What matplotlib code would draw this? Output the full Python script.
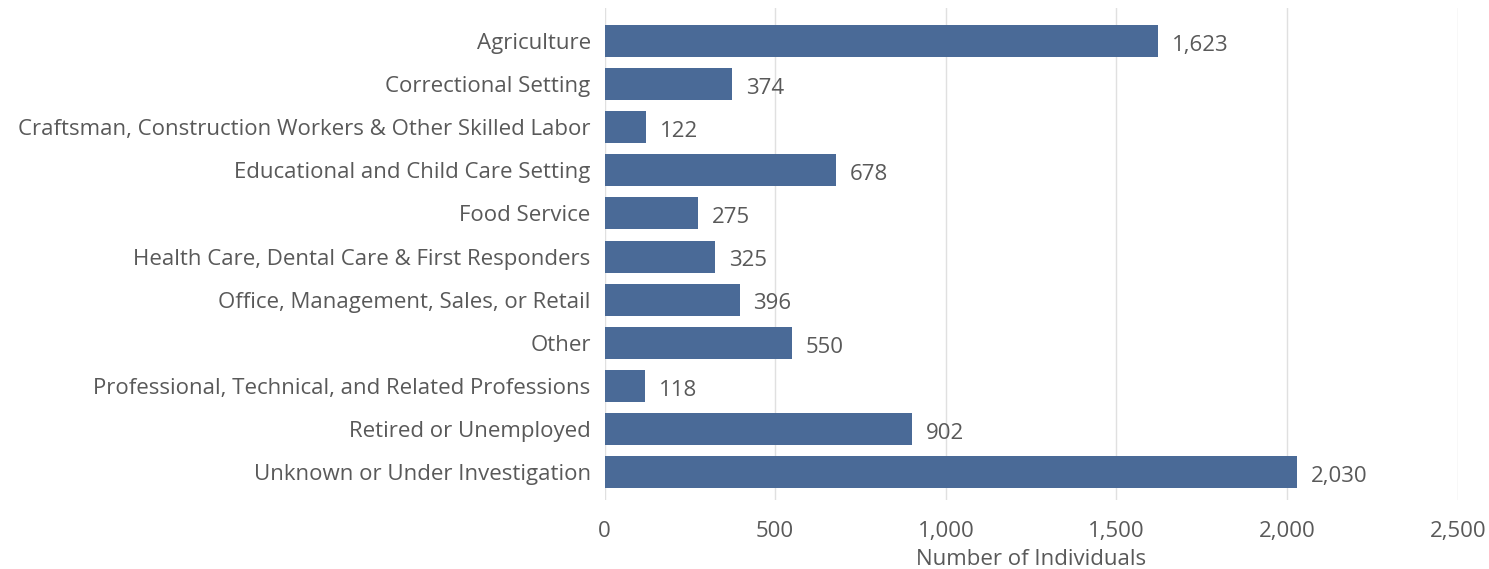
import matplotlib
matplotlib.use("Agg")
from matplotlib import pyplot as plt

categories = [
    "Agriculture",
    "Correctional Setting",
    "Craftsman, Construction Workers & Other Skilled Labor",
    "Educational and Child Care Setting",
    "Food Service",
    "Health Care, Dental Care & First Responders",
    "Office, Management, Sales, or Retail",
    "Other",
    "Professional, Technical, and Related Professions",
    "Retired or Unemployed",
    "Unknown or Under Investigation",
]
counts = [1623, 374, 122, 678, 275, 325, 396, 550, 118, 902, 2030]
xticks = [0, 500, 1000, 1500, 2000, 2500]

text_color = "#595959"
bar_color = "#4a6a97"

plt.rcParams["font.family"] = ["Open Sans", "DejaVu Sans"]

fig = plt.figure(figsize=(14.89, 5.69), dpi=100)
ax = fig.add_axes([0.406, 0.121, 0.573, 0.865])

y = list(range(len(categories)))
ax.barh(y, counts, height=0.74, color=bar_color, zorder=2)
for yi, v in zip(y, counts):
    ax.text(v + 40, yi + 0.1, f"{v:,}", va="center", ha="left",
            fontsize=16, color=text_color)

ax.set_xlim(0, 2500)
ax.set_ylim(10.65, -0.766)
ax.set_yticks(y)
ax.set_yticklabels(categories)
ax.set_xticks(xticks)
ax.set_xticklabels([f"{t:,}" for t in xticks])
ax.tick_params(axis="both", length=0, labelsize=16, colors=text_color)
ax.tick_params(axis="y", pad=10)
ax.tick_params(axis="x", pad=15)
ax.grid(axis="x", color="#e0e0e0", linewidth=1, zorder=0)
for s in ax.spines.values():
    s.set_visible(False)
ax.set_xlabel("Number of Individuals", fontsize=16, color=text_color, labelpad=5)

fig.savefig("out.png", dpi=100)
